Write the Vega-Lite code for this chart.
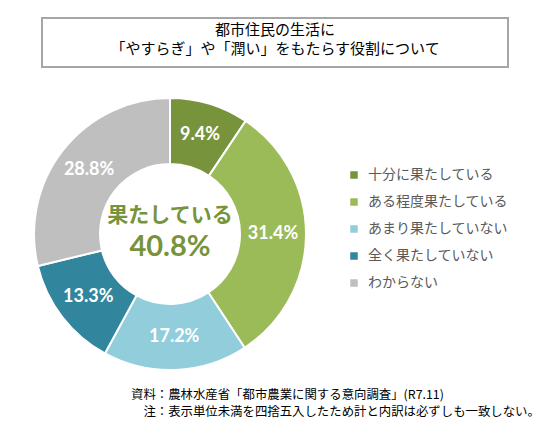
{
  "$schema": "https://vega.github.io/schema/vega-lite/v6.json",
  "background": "white",
  "padding": {"left": 30, "top": 17, "right": 0, "bottom": 0},
  "spacing": 26,
  "config": {"view": {"stroke": null}, "font": "Noto Sans CJK JP"},
  "datasets": {
    "answers": [
      {"answer": "十分に果たしている", "share": 0.094, "rank": 1},
      {"answer": "ある程度果たしている", "share": 0.314, "rank": 2},
      {"answer": "あまり果たしていない", "share": 0.172, "rank": 3},
      {"answer": "全く果たしていない", "share": 0.133, "rank": 4},
      {"answer": "わからない", "share": 0.288, "rank": 5}
    ],
    "summary": [
      {"caption": "果たしている", "total": 0.408}
    ]
  },
  "vconcat": [
    {
      "width": 466,
      "height": 49,
      "view": {"stroke": "#A6A6A6", "strokeWidth": 2},
      "data": {"values": [{}]},
      "mark": {
        "type": "text",
        "text": ["都市住民の生活に", "「やすらぎ」や「潤い」をもたらす役割について"],
        "fontSize": 15,
        "lineHeight": 19,
        "baseline": "middle",
        "align": "center",
        "dy": -12.5,
        "fill": "#000000"
      }
    },
    {
      "width": 256,
      "height": 272,
      "title": {
        "text": ["資料：農林水産省「都市農業に関する意向調査」(R7.11)", "\u200b\u3000注：表示単位未満を四捨五入したため計と内訳は必ずしも一致しない。"],
        "orient": "bottom",
        "anchor": "start",
        "dx": 101,
        "offset": 15,
        "fontSize": 12.4,
        "fontWeight": "normal",
        "lineHeight": 17,
        "color": "#000000",
        "font": "Noto Sans CJK JP"
      },
      "layer": [
        {
          "data": {"name": "answers"},
          "mark": {"type": "arc", "outerRadius": 136, "innerRadius": 70, "stroke": "white", "strokeWidth": 2},
          "encoding": {
            "theta": {"field": "share", "type": "quantitative", "stack": true},
            "order": {"field": "rank", "type": "quantitative"},
            "color": {
              "field": "answer",
              "type": "nominal",
              "scale": {
                "domain": ["十分に果たしている", "ある程度果たしている", "あまり果たしていない", "全く果たしていない", "わからない"],
                "range": ["#77933C", "#9BBB59", "#92CDDC", "#31859C", "#BFBFBF"]
              },
              "legend": {
                "orient": "none",
                "legendX": 305,
                "legendY": 150,
                "title": null,
                "symbolType": "square",
                "symbolSize": 56,
                "symbolStrokeWidth": 0,
                "labelFontSize": 14,
                "labelColor": "#595959",
                "labelFont": "Noto Sans CJK JP",
                "labelOffset": 7,
                "labelLimit": 300,
                "rowPadding": 13
              }
            }
          }
        },
        {
          "data": {"name": "answers"},
          "mark": {"type": "text", "radius": 103, "fontSize": 18, "fontWeight": "bold", "font": "Lato", "fill": "white"},
          "encoding": {
            "theta": {"field": "share", "type": "quantitative", "stack": true},
            "order": {"field": "rank", "type": "quantitative"},
            "text": {"field": "share", "type": "quantitative", "format": ".1%"}
          }
        },
        {
          "data": {"name": "summary"},
          "mark": {"type": "text", "dy": -18, "fontSize": 21, "fontWeight": "bold", "fill": "#77933C", "font": "Noto Sans CJK JP"},
          "encoding": {"text": {"field": "caption", "type": "nominal"}}
        },
        {
          "data": {"name": "summary"},
          "mark": {"type": "text", "dy": 13, "fontSize": 29, "fontWeight": "bold", "fill": "#77933C", "font": "Lato"},
          "encoding": {"text": {"field": "total", "type": "quantitative", "format": ".1%"}}
        }
      ]
    }
  ]
}
